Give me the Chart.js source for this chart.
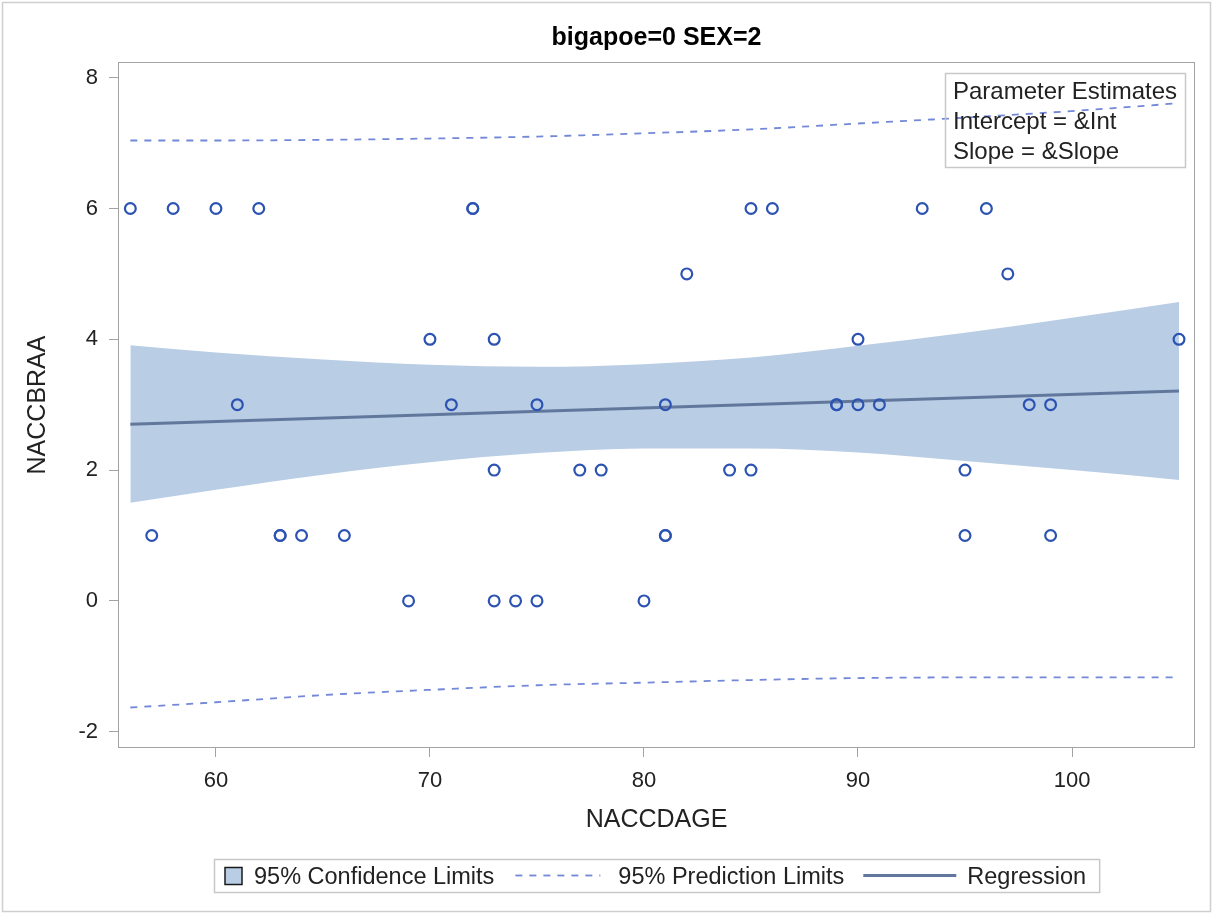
<!DOCTYPE html>
<html>
<head>
<meta charset="utf-8">
<title>bigapoe=0 SEX=2</title>
<script src="https://cdn.jsdelivr.net/npm/chart.js@4.4.0/dist/chart.umd.min.js"></script>
<style>
  html, body { margin: 0; padding: 0; background: #ffffff; }
  canvas { display: block; }
</style>
</head>
<body>
<canvas id="fitPlot" width="1213" height="913"></canvas>
<script>
// ---- text ----
const chartTitle = 'bigapoe=0 SEX=2';
const xAxisTitle = 'NACCDAGE';
const yAxisTitle = 'NACCBRAA';
const insetLines = ['Parameter Estimates', 'Intercept = &Int', 'Slope = &Slope'];
const legendLabels = ['95% Confidence Limits', '95% Prediction Limits', 'Regression'];

// ---- tick values ----
const xTicks = [60, 70, 80, 90, 100];
const yTicks = [-2, 0, 2, 4, 6, 8];

// ---- observations (age, NACCBRAA) ----
const ageX = [56, 58, 60, 62, 72, 72, 85, 86, 93, 96,
              82, 97,
              70, 73, 90, 105,
              61, 71, 75, 81, 89, 89, 90, 91, 98, 99,
              73, 77, 78, 84, 85, 95,
              57, 63, 63, 64, 66, 81, 81, 95, 99,
              69, 73, 74, 75, 80];
const braa = [6, 6, 6, 6, 6, 6, 6, 6, 6, 6,
              5, 5,
              4, 4, 4, 4,
              3, 3, 3, 3, 3, 3, 3, 3, 3, 3,
              2, 2, 2, 2, 2, 2,
              1, 1, 1, 1, 1, 1, 1, 1, 1,
              0, 0, 0, 0, 0];

// ---- fitted line and limits ----
const fitX    = [56, 60, 65, 70, 75, 80, 85, 90, 95, 100, 105];
const clUpper = [3.91, 3.80, 3.69, 3.61, 3.58, 3.62, 3.72, 3.90, 4.10, 4.33, 4.57];
const clLower = [1.50, 1.70, 1.93, 2.12, 2.26, 2.33, 2.33, 2.27, 2.14, 2.00, 1.85];
const plUpper = [7.04, 7.04, 7.05, 7.07, 7.10, 7.15, 7.21, 7.30, 7.39, 7.49, 7.61];
const plLower = [-1.63, -1.55, -1.44, -1.36, -1.29, -1.25, -1.21, -1.18, -1.17, -1.17, -1.17];
const regX = [56, 105];
const regY = [2.70, 3.21];

// ---- styling ----
const FONT = '"Liberation Sans", Arial, Helvetica, sans-serif';
const TEXT = '#222222';
const AXIS_GRAY = '#a3a3a3';
const BAND = '#b9cde5';
const REG = '#61789c';
const PRED = '#7388d6';
const DOT = '#2c53b2';

const pts = (xs, ys) => xs.map((x, i) => ({ x: x, y: ys[i] }));

// white page with a thin outer frame
const pageFrame = {
  id: 'pageFrame',
  beforeDraw(chart) {
    const ctx = chart.ctx;
    ctx.save();
    ctx.fillStyle = '#ffffff';
    ctx.fillRect(0, 0, chart.width, chart.height);
    ctx.strokeStyle = '#cfcfcf';
    ctx.lineWidth = 1.5;
    ctx.strokeRect(2.5, 2.5, chart.width - 5, chart.height - 4);
    ctx.restore();
  }
};

// box around the plotting region
const plotFrame = {
  id: 'plotFrame',
  afterDraw(chart) {
    const { ctx, chartArea: a } = chart;
    ctx.save();
    ctx.strokeStyle = AXIS_GRAY;
    ctx.lineWidth = 1;
    ctx.strokeRect(a.left - 0.5, a.top - 0.5, a.right - a.left + 1, a.bottom - a.top + 1);
    ctx.restore();
  }
};

// "Parameter Estimates" inset at the top right of the plot
const insetBox = {
  id: 'insetBox',
  afterDraw(chart) {
    const { ctx, chartArea: a } = chart;
    ctx.save();
    ctx.font = '24px ' + FONT;
    const tw = Math.max(...insetLines.map(t => ctx.measureText(t).width));
    const w = Math.round(tw + 16), h = 94;
    const right = a.right - 9, top = a.top + 10;
    const left = right - w;
    ctx.strokeStyle = '#c8c8c8';
    ctx.lineWidth = 1.5;
    ctx.strokeRect(left + 0.5, top + 0.5, w, h);
    ctx.fillStyle = TEXT;
    ctx.textAlign = 'left';
    ctx.textBaseline = 'alphabetic';
    insetLines.forEach((t, i) => ctx.fillText(t, left + 8, top + 26 + i * 30));
    ctx.restore();
  }
};

// legend row under the x axis
const bottomLegend = {
  id: 'bottomLegend',
  afterDraw(chart) {
    const { ctx, chartArea: a } = chart;
    const ds = chart.data.datasets;
    ctx.save();
    ctx.font = '23.5px ' + FONT;
    const w = legendLabels.map(t => ctx.measureText(t).width);
    const total = 11 + 17 + 12 + w[0] + 21 + 85 + 18 + w[1] + 19 + 93 + 11 + w[2] + 13;
    const left = Math.round((a.left + a.right) / 2 - total / 2);
    const top = chart.height - 54, h = 33;
    const mid = top + h / 2;
    const base = mid + 8.4;

    ctx.strokeStyle = '#c8c8c8';
    ctx.lineWidth = 1.5;
    ctx.strokeRect(left + 0.5, top + 0.5, total, h);

    let x = left + 11;
    // confidence band swatch
    ctx.fillStyle = ds[0].backgroundColor;
    ctx.fillRect(x, mid - 8, 17, 17);
    ctx.strokeStyle = '#1a1a1a';
    ctx.lineWidth = 1.5;
    ctx.strokeRect(x, mid - 8, 17, 17);
    x += 17 + 12;
    ctx.fillStyle = TEXT;
    ctx.textBaseline = 'alphabetic';
    ctx.fillText(legendLabels[0], x, base);
    x += w[0] + 21;

    // prediction limit swatch
    ctx.strokeStyle = ds[2].borderColor;
    ctx.lineWidth = ds[2].borderWidth;
    ctx.setLineDash(ds[2].borderDash);
    ctx.beginPath();
    ctx.moveTo(x, mid);
    ctx.lineTo(x + 85, mid);
    ctx.stroke();
    ctx.setLineDash([]);
    x += 85 + 18;
    ctx.fillText(legendLabels[1], x, base);
    x += w[1] + 19;

    // regression swatch
    ctx.strokeStyle = ds[4].borderColor;
    ctx.lineWidth = ds[4].borderWidth;
    ctx.beginPath();
    ctx.moveTo(x, mid);
    ctx.lineTo(x + 93, mid);
    ctx.stroke();
    x += 93 + 11;
    ctx.fillText(legendLabels[2], x, base);
    ctx.restore();
  }
};

const tickFont = { family: FONT, size: 22 };
const titleFont = { family: FONT, size: 25 };

new Chart(document.getElementById('fitPlot'), {
  type: 'scatter',
  data: {
    datasets: [
      {
        label: legendLabels[0],
        data: pts(fitX, clUpper),
        showLine: true, pointRadius: 0, borderWidth: 0,
        borderColor: 'rgba(0,0,0,0)', backgroundColor: BAND,
        fill: '+1', cubicInterpolationMode: 'monotone', order: 4
      },
      {
        label: 'clLower',
        data: pts(fitX, clLower),
        showLine: true, pointRadius: 0, borderWidth: 0,
        borderColor: 'rgba(0,0,0,0)', backgroundColor: BAND,
        fill: false, cubicInterpolationMode: 'monotone', order: 4
      },
      {
        label: legendLabels[1],
        data: pts(fitX, plUpper),
        showLine: true, pointRadius: 0, borderWidth: 1.8,
        borderColor: PRED, borderDash: [7, 7], fill: false,
        cubicInterpolationMode: 'monotone', order: 2
      },
      {
        label: 'plLower',
        data: pts(fitX, plLower),
        showLine: true, pointRadius: 0, borderWidth: 1.8,
        borderColor: PRED, borderDash: [7, 7], fill: false,
        cubicInterpolationMode: 'monotone', order: 2
      },
      {
        label: legendLabels[2],
        data: pts(regX, regY),
        showLine: true, pointRadius: 0, borderWidth: 3,
        borderColor: REG, fill: false, order: 1
      },
      {
        label: yAxisTitle,
        data: pts(ageX, braa),
        showLine: false, pointStyle: 'circle', pointRadius: 5.4,
        pointBorderWidth: 2.2, borderWidth: 2.2,
        borderColor: DOT, backgroundColor: 'rgba(0,0,0,0)',
        pointBackgroundColor: 'rgba(0,0,0,0)', pointBorderColor: DOT, order: 0
      }
    ]
  },
  options: {
    responsive: false,
    devicePixelRatio: 1,
    animation: false,
    events: [],
    layout: { padding: { left: 0, right: 19, top: 0, bottom: 76 } },
    plugins: {
      legend: { display: false },
      tooltip: { enabled: false },
      title: {
        display: true, text: chartTitle, fullSize: false,
        color: '#000000',
        font: { family: FONT, size: 25, weight: 'bold', lineHeight: 1.2 },
        padding: { top: 23.3, bottom: 9.7 }
      }
    },
    scales: {
      x: {
        type: 'linear', position: 'bottom',
        min: 55.47, max: 105.7,
        afterBuildTicks: s => { s.ticks = xTicks.map(v => ({ value: v })); },
        afterFit: s => { s.height = 90; },
        border: { display: false },
        grid: { display: true, drawOnChartArea: false, drawTicks: true, tickLength: 10, color: AXIS_GRAY, tickColor: AXIS_GRAY, lineWidth: 1 },
        ticks: { padding: 11, color: TEXT, font: tickFont, maxRotation: 0, autoSkip: false },
        title: { display: true, text: xAxisTitle, color: TEXT, font: titleFont, padding: { top: 0, bottom: 2 } }
      },
      y: {
        type: 'linear', position: 'left',
        min: -2.234, max: 8.225,
        afterBuildTicks: s => { s.ticks = yTicks.map(v => ({ value: v })); },
        afterFit: s => { s.width = 119; },
        border: { display: false },
        grid: { display: true, drawOnChartArea: false, drawTicks: true, tickLength: 10, color: AXIS_GRAY, tickColor: AXIS_GRAY, lineWidth: 1 },
        ticks: { padding: 11, color: TEXT, font: tickFont, autoSkip: false },
        title: { display: true, text: yAxisTitle, color: TEXT, font: titleFont, padding: { top: 23, bottom: 0 } }
      }
    }
  },
  plugins: [pageFrame, plotFrame, insetBox, bottomLegend]
});
</script>
</body>
</html>
